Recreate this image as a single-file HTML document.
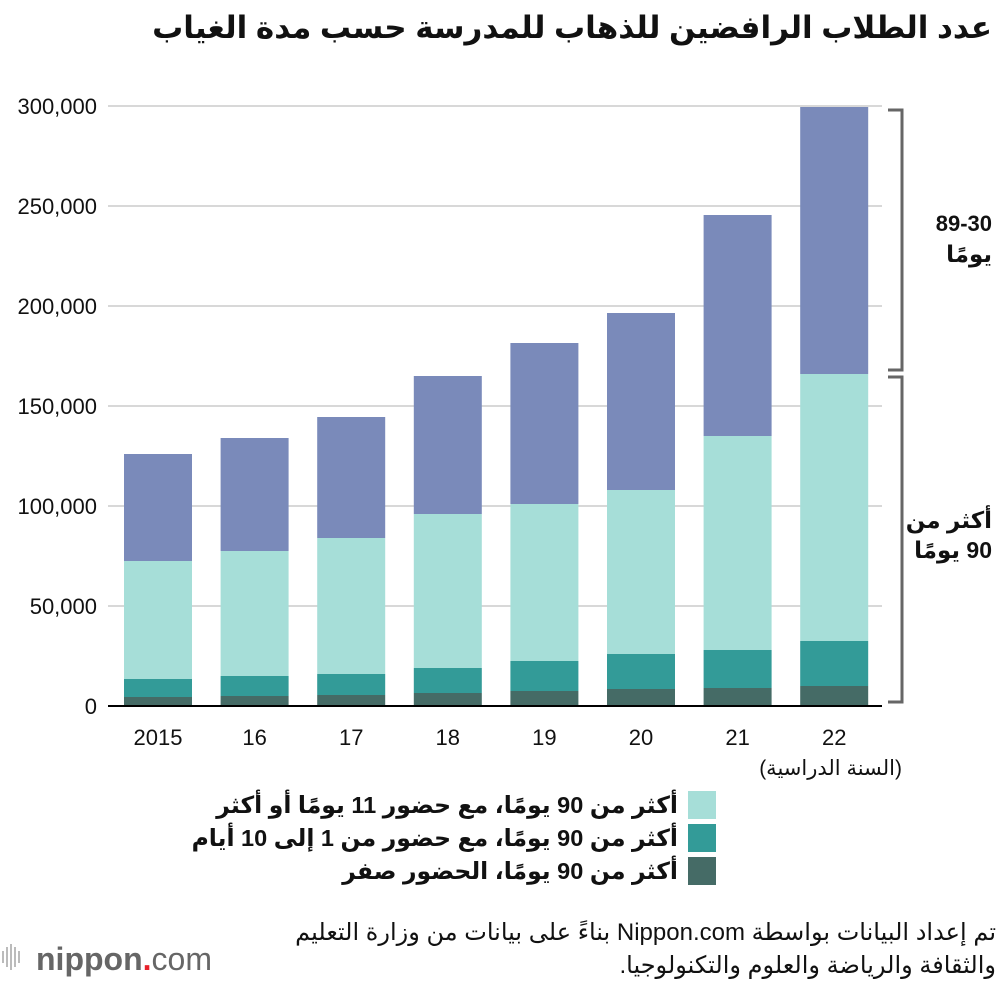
<!DOCTYPE html>
<html><head><meta charset="utf-8">
<style>
body{margin:0;background:#fff;width:1000px;height:982px;overflow:hidden;font-family:"Liberation Sans","DejaVu Sans",sans-serif;}
svg text{font-family:"Liberation Sans","DejaVu Sans",sans-serif;}
</style></head>
<body>
<svg id="c" width="1000" height="982">
<text x="992" y="38" text-anchor="start" font-size="31" font-weight="bold" fill="#111" direction="rtl">عدد الطلاب الرافضين للذهاب للمدرسة حسب مدة الغياب</text>
<g id="grid"></g><g id="bars"></g><g id="xl"></g>
<g fill="none" stroke="#666" stroke-width="3">
<polyline points="888,110 902,110 902,370 888,370"/>
<polyline points="888,377 902,377 902,702 888,702"/>
</g>
<text x="992" y="231" text-anchor="end" font-size="22" font-weight="bold" fill="#111">89-30</text>
<text x="992" y="262" text-anchor="start" font-size="23" font-weight="bold" fill="#111" direction="rtl">يومًا</text>
<text x="992" y="528" text-anchor="start" font-size="23" font-weight="bold" fill="#111" direction="rtl">أكثر من</text>
<text x="992" y="558" text-anchor="start" font-size="23" font-weight="bold" fill="#111" direction="rtl">90 يومًا</text>
<text x="902" y="775" text-anchor="start" font-size="21" fill="#111" direction="rtl">(السنة الدراسية)</text>
<g>
<rect x="688" y="791" width="28" height="28" fill="#a6ded8"/>
<text x="678" y="813" text-anchor="start" font-size="23.5" font-weight="bold" fill="#111" direction="rtl">أكثر من 90 يومًا، مع حضور 11 يومًا أو أكثر</text>
<rect x="688" y="824" width="28" height="28" fill="#339b98"/>
<text x="678" y="846" text-anchor="start" font-size="23.5" font-weight="bold" fill="#111" direction="rtl">أكثر من 90 يومًا، مع حضور من 1 إلى 10 أيام</text>
<rect x="688" y="857" width="28" height="28" fill="#456b66"/>
<text x="678" y="879" text-anchor="start" font-size="23.5" font-weight="bold" fill="#111" direction="rtl">أكثر من 90 يومًا، الحضور صفر</text>
</g>
<text x="996" y="940" text-anchor="start" font-size="24" fill="#111" direction="rtl">تم إعداد البيانات بواسطة Nippon.com بناءً على بيانات من وزارة التعليم</text>
<text x="996" y="973" text-anchor="start" font-size="24" fill="#111" direction="rtl">والثقافة والرياضة والعلوم والتكنولوجيا.</text>
<g>
<g fill="#bbb"><rect x="2" y="951" width="2" height="12"/><rect x="6" y="947" width="2" height="20"/><rect x="10" y="944" width="2" height="26"/><rect x="14" y="947" width="2" height="20"/><rect x="18" y="951" width="2" height="12"/></g>
<text x="36" y="970" font-size="32" fill="#666"><tspan font-weight="bold">nippon</tspan><tspan fill="#e8202a" font-weight="bold">.</tspan><tspan>com</tspan></text>
</g>
</svg>
<script>
const years=["2015","16","17","18","19","20","21","22"];
const zeroAtt=[4500,5000,5500,6500,7500,8500,9000,10000];
const att1to10=[9000,10000,10500,12500,15000,17500,19000,22500];
const att11plus=[59000,62500,68000,77000,78500,82000,107000,133500];
const days30to89=[53500,56500,60500,69000,80500,88500,110500,133500];
const yTicks=[0,50000,100000,150000,200000,250000,300000];
const tickLabels=["0","50,000","100,000","150,000","200,000","250,000","300,000"];
const NS="http://www.w3.org/2000/svg";
const y=v=>706-v*600/300000;
const x=i=>158+i*96.6;
const bw=68;
function mk(t,a,p){const e=document.createElementNS(NS,t);for(const k in a)e.setAttribute(k,a[k]);p.appendChild(e);return e;}
const g=document.getElementById('grid');
yTicks.forEach((t,i)=>{
 if(t>0){const l=mk('line',{x1:108,x2:882,y1:y(t),y2:y(t),stroke:'#ccc','stroke-width':1.5},g);
 
 }
 const tx=mk('text',{x:97,y:y(t)+8,'text-anchor':'end','font-size':22,fill:'#111'},g);
 tx.textContent=tickLabels[i];
 
 
});
const b=document.getElementById('bars');
const series=[[zeroAtt,'#456b66','zero'],[att1to10,'#339b98','1to10'],[att11plus,'#a6ded8','11plus'],[days30to89,'#7a8aba','30to89']];
years.forEach((yr,i)=>{
 let base=0;
 series.forEach(s=>{
  const v=s[0][i];
  const r=mk('rect',{x:x(i)-bw/2,y:y(base+v),width:bw,height:y(base)-y(base+v),fill:s[1]},b);
  
  
  base+=v;
 });
 const t=mk('text',{x:x(i),y:745,'text-anchor':'middle','font-size':22,fill:'#111'},document.getElementById('xl'));
 t.textContent=yr;
 
 
});
const ax=mk('line',{x1:108,x2:882,y1:706,y2:706,stroke:'#000','stroke-width':2},b);


</script>
</body></html>
